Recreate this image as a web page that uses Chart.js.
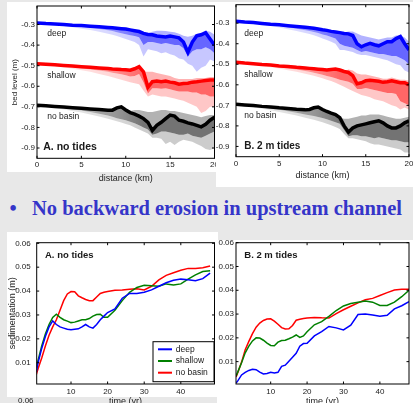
<!DOCTYPE html>
<html><head><meta charset="utf-8">
<script src="https://cdn.jsdelivr.net/npm/chart.js@4.4.1/dist/chart.umd.min.js"></script>
<style>
html,body{margin:0;padding:0;width:413px;height:403px;overflow:hidden;background:#e8e8e8;}
.panel{position:absolute;background:#fff;}
canvas{position:absolute;}
#bullet{position:absolute;left:0;top:197.8px;width:413px;height:24px;font-family:"Liberation Serif","Times New Roman",serif;font-weight:bold;font-size:20.5px;line-height:20.5px;color:#3535c9;white-space:nowrap;}
#bullet .dot{position:absolute;left:9.5px;}
#bullet .txt{position:absolute;left:32px;}
#cut{position:absolute;left:18px;top:397px;font:8px "Liberation Sans",Arial,sans-serif;color:#222;line-height:8px;}
</style></head><body>
<div class="panel" style="left:7px;top:2px;width:209px;height:170px"></div>
<div class="panel" style="left:216px;top:2px;width:197px;height:185px"></div>
<div class="panel" style="left:7px;top:232px;width:211px;height:165px"></div>
<div class="panel" style="left:217px;top:240px;width:196px;height:163px"></div>
<canvas id="cA" width="209" height="185" style="left:7px;top:2px"></canvas>
<canvas id="cB" width="197" height="185" style="left:216px;top:2px"></canvas>
<canvas id="sA" width="210" height="180" style="left:7px;top:232px"></canvas>
<canvas id="sB" width="196" height="172" style="left:217px;top:240px"></canvas>
<div id="bullet"><span class="dot">•</span><span class="txt">No backward erosion in upstream channel</span></div>
<div id="cut">0.06</div>
<script>
// ---------- DATA ----------
const seriesNames = ['deep', 'shallow', 'no basin'];
const distance = [0,1,2,3,4,5,6,7,8,8.5,9,9.5,10,10.5,11,11.5,12,12.5,13,13.5,14,14.5,15,15.5,16,16.5,17,17.5,18,18.5,19,19.5,20];

// Panel A (no tides) bed profiles
const deepA_main = [-0.292,-0.295,-0.297,-0.300,-0.303,-0.305,-0.308,-0.311,-0.314,-0.316,-0.318,-0.320,-0.322,-0.326,-0.330,-0.334,-0.343,-0.348,-0.350,-0.356,-0.358,-0.360,-0.356,-0.360,-0.365,-0.385,-0.435,-0.385,-0.355,-0.350,-0.340,-0.370,-0.400];
const deepA_hi   = [-0.292,-0.295,-0.297,-0.300,-0.303,-0.305,-0.308,-0.311,-0.314,-0.316,-0.318,-0.320,-0.322,-0.326,-0.330,-0.334,-0.343,-0.340,-0.335,-0.330,-0.330,-0.332,-0.335,-0.338,-0.345,-0.355,-0.360,-0.355,-0.345,-0.340,-0.330,-0.335,-0.350];
const deepA_mid  = [-0.292,-0.296,-0.299,-0.303,-0.307,-0.311,-0.316,-0.322,-0.328,-0.332,-0.337,-0.342,-0.347,-0.352,-0.356,-0.362,-0.400,-0.385,-0.385,-0.390,-0.395,-0.390,-0.395,-0.400,-0.400,-0.415,-0.455,-0.430,-0.420,-0.420,-0.410,-0.420,-0.440];
const deepA_low  = [-0.292,-0.297,-0.302,-0.307,-0.313,-0.320,-0.327,-0.335,-0.345,-0.350,-0.356,-0.363,-0.370,-0.378,-0.385,-0.400,-0.455,-0.420,-0.425,-0.430,-0.440,-0.435,-0.445,-0.450,-0.465,-0.470,-0.490,-0.500,-0.530,-0.510,-0.500,-0.470,-0.480];

const shallowA_main = [-0.490,-0.493,-0.496,-0.499,-0.502,-0.505,-0.508,-0.511,-0.514,-0.516,-0.517,-0.519,-0.520,-0.522,-0.515,-0.505,-0.530,-0.605,-0.578,-0.575,-0.578,-0.575,-0.580,-0.583,-0.590,-0.587,-0.585,-0.580,-0.578,-0.575,-0.572,-0.570,-0.570];
const shallowA_hi   = [-0.490,-0.493,-0.496,-0.499,-0.502,-0.505,-0.508,-0.511,-0.514,-0.516,-0.517,-0.519,-0.520,-0.522,-0.515,-0.505,-0.530,-0.530,-0.530,-0.535,-0.540,-0.545,-0.550,-0.560,-0.565,-0.565,-0.565,-0.565,-0.560,-0.560,-0.560,-0.555,-0.555];
const shallowA_mid  = [-0.490,-0.494,-0.498,-0.502,-0.507,-0.512,-0.518,-0.524,-0.530,-0.534,-0.538,-0.542,-0.547,-0.552,-0.550,-0.540,-0.580,-0.635,-0.610,-0.610,-0.612,-0.610,-0.615,-0.620,-0.625,-0.625,-0.625,-0.630,-0.630,-0.640,-0.640,-0.650,-0.650];
const shallowA_low  = [-0.490,-0.496,-0.502,-0.508,-0.515,-0.522,-0.530,-0.540,-0.550,-0.556,-0.562,-0.568,-0.575,-0.580,-0.585,-0.590,-0.620,-0.650,-0.640,-0.645,-0.650,-0.650,-0.655,-0.660,-0.665,-0.670,-0.680,-0.690,-0.700,-0.730,-0.720,-0.700,-0.700];

const noBasinA_main = [-0.692,-0.695,-0.698,-0.701,-0.704,-0.707,-0.710,-0.713,-0.716,-0.716,-0.705,-0.700,-0.715,-0.728,-0.735,-0.745,-0.757,-0.775,-0.815,-0.790,-0.775,-0.757,-0.740,-0.745,-0.765,-0.770,-0.778,-0.783,-0.790,-0.797,-0.785,-0.765,-0.750];
const noBasinA_hi   = [-0.692,-0.695,-0.698,-0.701,-0.704,-0.707,-0.710,-0.713,-0.716,-0.716,-0.705,-0.700,-0.715,-0.720,-0.715,-0.715,-0.720,-0.725,-0.725,-0.720,-0.715,-0.715,-0.720,-0.720,-0.725,-0.730,-0.735,-0.740,-0.745,-0.750,-0.745,-0.740,-0.740];
const noBasinA_mid  = [-0.692,-0.697,-0.702,-0.707,-0.712,-0.718,-0.725,-0.733,-0.742,-0.748,-0.755,-0.760,-0.765,-0.772,-0.780,-0.790,-0.800,-0.810,-0.835,-0.830,-0.820,-0.820,-0.825,-0.830,-0.835,-0.835,-0.830,-0.840,-0.845,-0.850,-0.840,-0.830,-0.820];
const noBasinA_low  = [-0.692,-0.699,-0.706,-0.713,-0.720,-0.728,-0.737,-0.747,-0.758,-0.764,-0.770,-0.776,-0.783,-0.790,-0.800,-0.810,-0.820,-0.830,-0.850,-0.850,-0.855,-0.880,-0.870,-0.885,-0.870,-0.860,-0.865,-0.870,-0.880,-0.890,-0.905,-0.910,-0.900];

// Panel B (2 m tides) bed profiles
const deepB_main = [-0.290,-0.294,-0.297,-0.301,-0.305,-0.308,-0.312,-0.316,-0.320,-0.322,-0.325,-0.328,-0.332,-0.335,-0.340,-0.343,-0.346,-0.350,-0.352,-0.360,-0.400,-0.415,-0.405,-0.398,-0.405,-0.410,-0.400,-0.390,-0.390,-0.375,-0.365,-0.400,-0.430];
const deepB_hi   = [-0.290,-0.294,-0.297,-0.301,-0.305,-0.308,-0.312,-0.316,-0.320,-0.322,-0.325,-0.328,-0.332,-0.335,-0.340,-0.343,-0.346,-0.345,-0.340,-0.340,-0.350,-0.360,-0.365,-0.370,-0.375,-0.380,-0.375,-0.370,-0.370,-0.360,-0.360,-0.370,-0.390];
const deepB_mid  = [-0.290,-0.295,-0.299,-0.304,-0.309,-0.314,-0.320,-0.327,-0.334,-0.338,-0.343,-0.348,-0.355,-0.360,-0.367,-0.375,-0.400,-0.410,-0.415,-0.420,-0.430,-0.440,-0.435,-0.440,-0.445,-0.450,-0.450,-0.455,-0.460,-0.460,-0.470,-0.480,-0.500];
const deepB_low  = [-0.290,-0.296,-0.302,-0.308,-0.314,-0.321,-0.329,-0.338,-0.348,-0.353,-0.359,-0.366,-0.374,-0.382,-0.390,-0.400,-0.430,-0.430,-0.435,-0.440,-0.450,-0.455,-0.455,-0.460,-0.465,-0.470,-0.475,-0.480,-0.490,-0.500,-0.505,-0.530,-0.540];

const shallowB_main = [-0.490,-0.494,-0.497,-0.501,-0.504,-0.508,-0.511,-0.515,-0.518,-0.520,-0.522,-0.524,-0.526,-0.528,-0.525,-0.523,-0.528,-0.535,-0.540,-0.555,-0.595,-0.590,-0.580,-0.578,-0.580,-0.583,-0.588,-0.585,-0.580,-0.585,-0.590,-0.590,-0.600];
const shallowB_hi   = [-0.490,-0.494,-0.497,-0.501,-0.504,-0.508,-0.511,-0.515,-0.518,-0.520,-0.522,-0.524,-0.526,-0.528,-0.525,-0.523,-0.528,-0.535,-0.525,-0.530,-0.545,-0.550,-0.550,-0.555,-0.560,-0.565,-0.570,-0.570,-0.565,-0.570,-0.575,-0.575,-0.580];
const shallowB_mid  = [-0.490,-0.495,-0.499,-0.504,-0.509,-0.514,-0.520,-0.526,-0.533,-0.537,-0.541,-0.546,-0.551,-0.557,-0.562,-0.568,-0.575,-0.580,-0.585,-0.595,-0.620,-0.620,-0.615,-0.620,-0.625,-0.630,-0.635,-0.640,-0.640,-0.645,-0.680,-0.690,-0.700];
const shallowB_low  = [-0.490,-0.496,-0.502,-0.508,-0.514,-0.521,-0.529,-0.537,-0.546,-0.551,-0.556,-0.562,-0.568,-0.575,-0.582,-0.590,-0.600,-0.610,-0.620,-0.630,-0.640,-0.650,-0.655,-0.660,-0.670,-0.675,-0.680,-0.690,-0.700,-0.705,-0.720,-0.710,-0.720];

const noBasinB_main = [-0.695,-0.698,-0.701,-0.705,-0.708,-0.712,-0.715,-0.719,-0.722,-0.720,-0.712,-0.708,-0.720,-0.730,-0.738,-0.745,-0.760,-0.800,-0.830,-0.810,-0.800,-0.795,-0.790,-0.785,-0.780,-0.775,-0.785,-0.800,-0.810,-0.810,-0.800,-0.785,-0.775];
const noBasinB_hi   = [-0.695,-0.698,-0.701,-0.705,-0.708,-0.712,-0.715,-0.719,-0.722,-0.720,-0.712,-0.708,-0.720,-0.730,-0.738,-0.745,-0.760,-0.765,-0.765,-0.760,-0.755,-0.750,-0.750,-0.745,-0.745,-0.745,-0.750,-0.755,-0.760,-0.765,-0.765,-0.760,-0.755];
const noBasinB_mid  = [-0.695,-0.700,-0.705,-0.710,-0.716,-0.722,-0.729,-0.736,-0.744,-0.748,-0.752,-0.757,-0.762,-0.768,-0.775,-0.782,-0.790,-0.820,-0.850,-0.845,-0.845,-0.850,-0.850,-0.855,-0.860,-0.855,-0.860,-0.865,-0.870,-0.870,-0.875,-0.880,-0.880];
const noBasinB_low  = [-0.695,-0.702,-0.709,-0.716,-0.724,-0.732,-0.741,-0.750,-0.760,-0.765,-0.770,-0.776,-0.782,-0.789,-0.797,-0.805,-0.815,-0.840,-0.860,-0.860,-0.865,-0.870,-0.875,-0.885,-0.890,-0.890,-0.895,-0.900,-0.905,-0.910,-0.915,-0.930,-0.930];

// Sedimentation time series
const time = [0.5,1,2,3,4,5,6,7,8,9,10,11,12,13,14,15,16,17,18,19,20,22,24,26,28,30,32,34,36,38,40,42,44,46,48];
const deepA_sed    = [0.006,0.010,0.016,0.021,0.025,0.0275,0.026,0.025,0.0245,0.024,0.0238,0.024,0.0242,0.025,0.026,0.025,0.0245,0.026,0.028,0.0295,0.031,0.0325,0.037,0.039,0.039,0.0395,0.0405,0.042,0.0435,0.0445,0.045,0.0447,0.0443,0.0452,0.0475];
const shallowA_sed = [0.008,0.011,0.017,0.022,0.026,0.029,0.0303,0.029,0.028,0.0274,0.0268,0.027,0.0275,0.028,0.028,0.0285,0.0295,0.0302,0.0303,0.029,0.029,0.032,0.036,0.0395,0.0415,0.0424,0.0422,0.042,0.043,0.0425,0.043,0.045,0.0468,0.0482,0.0485];
const noBasinA_sed = [0.005,0.0075,0.012,0.017,0.0215,0.025,0.028,0.032,0.036,0.0388,0.0398,0.0397,0.038,0.0372,0.0365,0.036,0.036,0.0375,0.039,0.0395,0.0398,0.0403,0.0405,0.0408,0.041,0.0405,0.042,0.0447,0.0466,0.0477,0.0487,0.0495,0.0495,0.0498,0.0505];
const deepB_sed    = [0.001,0.002,0.0044,0.0055,0.0063,0.0068,0.0066,0.0056,0.0048,0.005,0.0055,0.0052,0.0055,0.008,0.0085,0.0102,0.0118,0.0135,0.0165,0.0176,0.0177,0.0208,0.0226,0.0248,0.0242,0.0233,0.0253,0.0298,0.030,0.0296,0.0291,0.0295,0.0322,0.0335,0.0352];
const shallowB_sed = [0.004,0.0058,0.0095,0.0137,0.0165,0.0187,0.0200,0.0199,0.019,0.0178,0.0168,0.0167,0.0182,0.0189,0.019,0.0196,0.0203,0.0212,0.0202,0.0208,0.0226,0.0255,0.0268,0.029,0.0315,0.0334,0.0344,0.035,0.0355,0.035,0.0336,0.0336,0.035,0.0373,0.040];
const noBasinB_sed = [0.0035,0.0055,0.0098,0.015,0.0185,0.0218,0.0245,0.0262,0.0273,0.0279,0.028,0.027,0.0257,0.0243,0.0237,0.0238,0.0252,0.0274,0.0278,0.0281,0.0283,0.0286,0.0284,0.0283,0.0302,0.0318,0.0333,0.0347,0.036,0.0366,0.0378,0.039,0.0401,0.0404,0.0404];

// Tick labels
const topXTicks = [0,5,10,15,20];
const topYTicks = [-0.3,-0.4,-0.5,-0.6,-0.7,-0.8,-0.9];
const botXTicks = [10,20,30,40];
const botYTicks = [0.01,0.02,0.03,0.04,0.05,0.06];

// ---------- RENDERING ----------
Chart.defaults.font.family = '"Liberation Sans", Arial, sans-serif';
Chart.defaults.color = '#222';
const SANS = '"Liberation Sans", Arial, sans-serif';

const pts = (xs, ys) => xs.map((x, i) => ({x, y: ys[i]}));

function decor(texts, legend) {
  return {
    id: 'decor',
    afterDraw(chart) {
      const ctx = chart.ctx, a = chart.chartArea, xs = chart.scales.x, ys = chart.scales.y;
      ctx.save();
      ctx.strokeStyle = '#000'; ctx.lineWidth = 1;
      ctx.strokeRect(a.left, a.top, a.right - a.left, a.bottom - a.top);
      const L = 2.5;
      ctx.beginPath();
      xs.ticks.forEach(t => { const p = xs.getPixelForValue(t.value);
        ctx.moveTo(p, a.bottom); ctx.lineTo(p, a.bottom - L); ctx.moveTo(p, a.top); ctx.lineTo(p, a.top + L); });
      ys.ticks.forEach(t => { const p = ys.getPixelForValue(t.value);
        ctx.moveTo(a.left, p); ctx.lineTo(a.left + L, p); ctx.moveTo(a.right, p); ctx.lineTo(a.right - L, p); });
      ctx.stroke();
      ctx.textBaseline = 'middle'; ctx.textAlign = 'left'; ctx.fillStyle = '#1a1a1a';
      texts.forEach(t => { ctx.font = t.f; ctx.fillText(t.text, xs.getPixelForValue(t.x), ys.getPixelForValue(t.y)); });
      if (legend) {
        const w = 61, h = 40, bx = a.right - 0.5 - w, by = a.bottom - 2.3 - h;
        ctx.fillStyle = '#fff'; ctx.fillRect(bx, by, w, h);
        ctx.strokeStyle = '#000'; ctx.lineWidth = 1; ctx.strokeRect(bx, by, w, h);
        chart.data.datasets.forEach((d, i) => {
          const yy = by + 7.6 + i * 11.7;
          ctx.strokeStyle = d.borderColor; ctx.lineWidth = 2;
          ctx.beginPath(); ctx.moveTo(bx + 5, yy); ctx.lineTo(bx + 19, yy); ctx.stroke();
          ctx.fillStyle = '#1a1a1a'; ctx.font = '8.5px ' + SANS; ctx.fillText(d.label, bx + 22.7, yy);
        });
      }
      ctx.restore();
    }
  };
}

function bandColor(rgb, alpha) {
  return (c) => {
    const ch = c.chart, a = ch.chartArea;
    if (!a) return `rgba(${rgb},${alpha})`;
    const g = ch.ctx.createLinearGradient(a.left, 0, a.right, 0);
    g.addColorStop(0, `rgba(${rgb},${alpha * 0.3})`);
    g.addColorStop(0.45, `rgba(${rgb},${alpha * 0.75})`);
    g.addColorStop(0.6, `rgba(${rgb},${alpha})`);
    g.addColorStop(1, `rgba(${rgb},${alpha})`);
    return g;
  };
}

function profileDatasets(groups) {
  const ds = [];
  groups.forEach(g => ds.push({label: g.name, data: pts(distance, g.main), borderColor: `rgb(${g.rgb})`, borderWidth: 3.5, fill: false, order: 0}));
  groups.forEach((g, k) => {
    ds.push({data: pts(distance, g.hi), borderWidth: 0, borderColor: 'rgba(0,0,0,0)', fill: {target: k}, backgroundColor: bandColor(g.rgb, g.ah)});
    ds.push({data: pts(distance, g.mid), borderWidth: 0, borderColor: 'rgba(0,0,0,0)', fill: {target: k}, backgroundColor: bandColor(g.rgb, g.am)});
    const midIdx = ds.length - 1;
    ds.push({data: pts(distance, g.low), borderWidth: 0, borderColor: 'rgba(0,0,0,0)', fill: {target: midIdx}, backgroundColor: bandColor(g.rgb, g.al)});
  });
  return ds;
}

function baseOptions(c) {
  return {
    responsive: false, animation: false, events: [],
    layout: {padding: {left: 0, top: c.padTop, right: c.padRight, bottom: 0}, autoPadding: false},
    plugins: {legend: {display: false}, tooltip: {enabled: false}},
    elements: {point: {radius: 0}, line: {tension: 0}},
    scales: {
      x: {type: 'linear', min: c.xmin, max: c.xmax,
        afterBuildTicks: s => { s.ticks = c.xticks.map(v => ({value: v})); },
        afterFit: s => { s.height = c.xH; s.paddingLeft = 0; s.paddingRight = 0; },
        grid: {display: false, drawTicks: false}, border: {display: false},
        ticks: {padding: c.xTickPad, font: {size: 8}, color: '#222', maxRotation: 0, autoSkip: false, callback: v => String(v)},
        title: {display: true, text: c.xTitle, font: {size: 9}, color: '#222', padding: {top: 0, bottom: c.xTitlePad}}},
      y: {type: 'linear', min: c.ymin, max: c.ymax,
        afterBuildTicks: s => { s.ticks = c.yticks.map(v => ({value: v})); },
        afterFit: s => { s.width = c.yW; s.paddingTop = 0; s.paddingBottom = 0; },
        grid: {display: false, drawTicks: false}, border: {display: false},
        ticks: {padding: c.yTickPad, font: {size: 8}, color: '#222', autoSkip: false, callback: v => v.toFixed(c.yDec)},
        title: {display: !!c.yTitle, text: c.yTitle || '', font: {size: c.yTitleSize || 8}, color: '#222', padding: {top: c.yTitlePad || 0, bottom: 0}}}
    }
  };
}

const F_LBL = '8.5px ' + SANS, F_BOLD = 'bold 10.5px ' + SANS, F_BOLD_S = 'bold 9.5px ' + SANS;

// Panel A top
new Chart(document.getElementById('cA'), {
  type: 'line',
  data: {datasets: profileDatasets([
    {name: seriesNames[0], rgb: '0,0,255', main: deepA_main, hi: deepA_hi, mid: deepA_mid, low: deepA_low, ah: 0.3, am: 0.6, al: 0.22},
    {name: seriesNames[1], rgb: '255,0,0', main: shallowA_main, hi: shallowA_hi, mid: shallowA_mid, low: shallowA_low, ah: 0.3, am: 0.6, al: 0.22},
    {name: seriesNames[2], rgb: '0,0,0', main: noBasinA_main, hi: noBasinA_hi, mid: noBasinA_mid, low: noBasinA_low, ah: 0.3, am: 0.55, al: 0.2}
  ])},
  options: baseOptions({padTop: 4, padRight: 1.5, xmin: 0, xmax: 20, ymin: -0.95, ymax: -0.21, xticks: topXTicks, yticks: topYTicks,
    xH: 28.7, yW: 30, xTickPad: 2, yTickPad: 2, xTitle: 'distance (km)', xTitlePad: 2.6, yTitle: 'bed level (m)', yTitlePad: 2.5, yDec: 1}),
  plugins: [decor([
    {text: 'deep', x: 1.15, y: -0.345, f: F_LBL},
    {text: 'shallow', x: 1.15, y: -0.548, f: F_LBL},
    {text: 'no basin', x: 1.15, y: -0.749, f: F_LBL},
    {text: 'A. no tides', x: 0.7, y: -0.895, f: F_BOLD}
  ], null)]
});

// Panel B top
new Chart(document.getElementById('cB'), {
  type: 'line',
  data: {datasets: profileDatasets([
    {name: seriesNames[0], rgb: '0,0,255', main: deepB_main, hi: deepB_hi, mid: deepB_mid, low: deepB_low, ah: 0.3, am: 0.6, al: 0.22},
    {name: seriesNames[1], rgb: '255,0,0', main: shallowB_main, hi: shallowB_hi, mid: shallowB_mid, low: shallowB_low, ah: 0.3, am: 0.6, al: 0.22},
    {name: seriesNames[2], rgb: '0,0,0', main: noBasinB_main, hi: noBasinB_hi, mid: noBasinB_mid, low: noBasinB_low, ah: 0.3, am: 0.55, al: 0.2}
  ])},
  options: baseOptions({padTop: 2.7, padRight: 4, xmin: 0, xmax: 20, ymin: -0.95, ymax: -0.21, xticks: topXTicks, yticks: topYTicks,
    xH: 30.3, yW: 20, xTickPad: 2.5, yTickPad: 6.5, xTitle: 'distance (km)', xTitlePad: 5.6, yDec: 1}),
  plugins: [decor([
    {text: 'deep', x: 0.96, y: -0.35, f: F_LBL},
    {text: 'shallow', x: 0.96, y: -0.549, f: F_LBL},
    {text: 'no basin', x: 0.96, y: -0.749, f: F_LBL},
    {text: 'B. 2 m tides', x: 0.96, y: -0.9, f: 'bold 10px ' + SANS}
  ], null)]
});

function sedDatasets(a, b, c) {
  return [
    {label: seriesNames[0], data: pts(time, a), borderColor: '#0000ff', borderWidth: 1.5, fill: false},
    {label: seriesNames[1], data: pts(time, b), borderColor: '#008000', borderWidth: 1.5, fill: false},
    {label: seriesNames[2], data: pts(time, c), borderColor: '#ff0000', borderWidth: 1.5, fill: false}
  ];
}

// Sedimentation A
new Chart(document.getElementById('sA'), {
  type: 'line',
  data: {datasets: sedDatasets(deepA_sed, shallowA_sed, noBasinA_sed)},
  options: baseOptions({padTop: 10.7, padRight: 2.5, xmin: 0.63, xmax: 49.2, ymin: 0.0011, ymax: 0.06025, xticks: botXTicks, yticks: botYTicks,
    xH: 28, yW: 29.7, xTickPad: 2.9, yTickPad: 6, xTitle: 'time (yr)', xTitlePad: 4.6, yTitle: 'sedimentation (m)', yTitleSize: 9, yTitlePad: 0, yDec: 2}),
  plugins: [decor([{text: 'A. no tides', x: 2.9, y: 0.0551, f: F_BOLD_S}], true)]
});

// Sedimentation B
new Chart(document.getElementById('sB'), {
  type: 'line',
  data: {datasets: sedDatasets(deepB_sed, shallowB_sed, noBasinB_sed)},
  options: baseOptions({padTop: 2.7, padRight: 4, xmin: 0.47, xmax: 48, ymin: 0.0006, ymax: 0.06, xticks: botXTicks, yticks: botYTicks,
    xH: 28, yW: 19, xTickPad: 3.2, yTickPad: 2, xTitle: 'time (yr)', xTitlePad: 4.6, yDec: 2}),
  plugins: [decor([{text: 'B. 2 m tides', x: 2.75, y: 0.0548, f: F_BOLD_S}], null)]
});
</script>
</body></html>
